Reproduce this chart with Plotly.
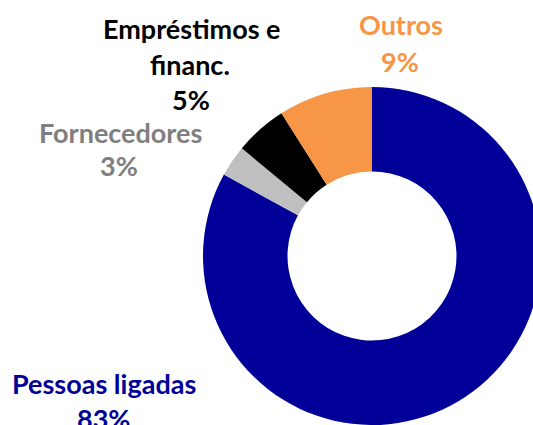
import plotly.graph_objects as go

labels = ["Pessoas ligadas", "Fornecedores", "Empréstimos e financ.", "Outros"]
label_lines = [["Pessoas ligadas"], ["Fornecedores"], ["Empréstimos e", "financ."], ["Outros"]]
values = [83, 3, 5, 9]
colors = ["#000099", "#BFBFBF", "#000000", "#F79646"]
text_colors = ["#000099", "#7F7F7F", "#000000", "#F79646"]

# label line centres in window pixels (x, y) per slice, one per text line
label_pos = [
    [(104, 383), (103, 418)],
    [(120, 132), (119, 165)],
    [(191, 28), (190, 65), (191, 100)],
    [(401, 25), (400, 62)],
]

W, H = 560, 440
L, T = 203, 87
SIZE = 338

fig = go.Figure(go.Pie(
    labels=labels,
    values=values,
    marker=dict(colors=colors, line=dict(width=0)),
    hole=0.5,
    sort=False,
    direction="clockwise",
    rotation=0,
    textinfo="none",
    showlegend=False,
))

annotations = []
for lines, val, col, pos in zip(label_lines, values, text_colors, label_pos):
    texts = lines + [f"{val}%"]
    for t, (px, py) in zip(texts, pos):
        annotations.append(dict(
            text=f"<b>{t}</b>", x=(px - L) / SIZE, y=(T + SIZE - py) / SIZE,
            xref="paper", yref="paper", showarrow=False,
            xanchor="center", yanchor="middle",
            font=dict(family="Lato", size=27, color=col),
        ))

fig.update_layout(
    width=W, height=H,
    margin=dict(l=L, r=W - L - SIZE, t=T, b=H - T - SIZE, pad=0),
    paper_bgcolor="white", plot_bgcolor="white",
    annotations=annotations,
)

fig.write_html(
    "out.html",
    config={"displayModeBar": False},
    post_script="document.documentElement.style.overflow='hidden';document.body.style.overflow='hidden';document.body.style.margin='0';",
)
